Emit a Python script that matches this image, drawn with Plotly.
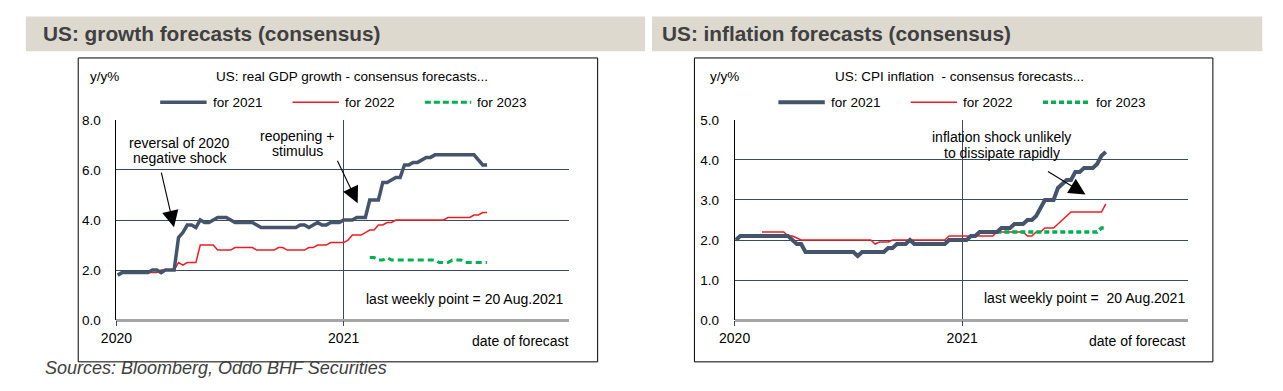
import pandas as pd
import plotly.graph_objects as go

W, H = 1283, 391

# ---------------- data (weekly, Fridays) ----------------
dates = list(pd.date_range("2020-01-03", "2021-08-20", freq="7D"))
N = len(dates)

gdp_2021 = ([1.8] + [1.9] * 7 + [2.0, 2.0, 1.9, 2.0, 2.0, 2.0]
            + [3.3, 3.5, 3.8, 3.8, 3.7, 4.0, 3.9, 3.9, 4.0, 4.1, 4.1, 4.1, 4.0]
            + [3.9] * 5 + [3.8] + [3.7] * 8
            + [3.7, 3.8, 3.8, 3.7, 3.8, 3.9, 3.8, 3.8, 3.9, 3.9, 3.9, 4.0, 4.0, 4.0, 4.1, 4.1, 4.1]
            + [4.8, 4.8, 4.8, 5.5, 5.5, 5.6, 5.7, 5.7, 6.2, 6.2, 6.3, 6.3, 6.4, 6.5, 6.5]
            + [6.6] * 10 + [6.4, 6.2, 6.2])
gdp_2022 = ([None] * 6 + [1.9] * 4 + [2.0] * 4 + [2.3, 2.2, 2.3, 2.3, 2.3]
            + [3.0] * 4 + [2.8] * 4 + [2.9] * 5 + [2.8] * 5 + [2.9, 2.9] + [2.8] * 5
            + [2.9, 2.9, 3.0, 3.0, 3.0, 3.1, 3.1, 3.1, 3.1, 3.2, 3.4, 3.4, 3.4, 3.5, 3.6, 3.6,
               3.8, 3.8, 3.9, 3.9]
            + [4.0] * 12 + [4.1] * 6 + [4.2, 4.2, 4.3, 4.3])
gdp_2023 = ([None] * 58 + [2.5, 2.5, 2.4, 2.4, 2.5, 2.4] + [2.4] * 10
            + [2.3, 2.3, 2.3, 2.4, 2.4, 2.4] + [2.3] * 6)

cpi_2021 = ([2.0] + [2.1] * 12 + [2.0, 1.9, 1.9] + [1.7] * 12 + [1.6] + [1.7] * 6
            + [1.8, 1.8, 1.9, 1.9, 1.9, 2.0] + [1.9] * 8 + [2.0] * 5
            + [2.1, 2.1, 2.2, 2.2, 2.2, 2.2, 2.2, 2.3, 2.3, 2.3, 2.4, 2.4, 2.4, 2.5, 2.5, 2.6,
               2.8, 3.0, 3.0, 3.0, 3.3, 3.4, 3.5, 3.5, 3.7, 3.7, 3.8, 3.8, 3.8, 3.9, 4.1, 4.2])
cpi_2022 = ([None] * 6 + [2.2] * 6 + [2.1, 2.1, 2.05] + [2.0] * 17 + [1.9, 1.95, 1.95, 1.95]
            + [2.0] * 13 + [2.1] * 11 + [2.2] * 7 + [2.1, 2.1, 2.2, 2.2, 2.3, 2.3, 2.3, 2.4, 2.5, 2.6]
            + [2.7] * 8 + [2.9])
cpi_2023 = [None] * 58 + [2.2] * 26 + [2.3, 2.3]

for s in (gdp_2021, gdp_2022, gdp_2023, cpi_2021, cpi_2022, cpi_2023):
    assert len(s) == N, len(s)

series_names = ["for 2021", "for 2022", "for 2023"]
x_ticks = ["2020-01-01", "2021-01-01"]
x_ticktext = ["2020", "2021"]

# ---------------- styling ----------------
FONT = "Arial, Liberation Sans, sans-serif"
BLUE, RED, GREEN = "#44546A", "#ED1C24", "#00B050"
GRID = "#3B4A61"


def px(x):
    return x / W


def py(y):
    return 1 - y / H


fig = go.Figure()

# left chart traces
fig.add_trace(go.Scatter(x=dates, y=gdp_2022, mode="lines", line=dict(color=RED, width=1.5),
                         xaxis="x", yaxis="y", showlegend=False))
fig.add_trace(go.Scatter(x=dates, y=gdp_2023, mode="lines",
                         line=dict(color=GREEN, width=3, dash="6px,4px"),
                         xaxis="x", yaxis="y", showlegend=False))
fig.add_trace(go.Scatter(x=dates, y=gdp_2021, mode="lines", line=dict(color=BLUE, width=3.5),
                         xaxis="x", yaxis="y", showlegend=False))
# right chart traces
fig.add_trace(go.Scatter(x=dates, y=cpi_2022, mode="lines", line=dict(color=RED, width=1.5),
                         xaxis="x2", yaxis="y2", showlegend=False))
fig.add_trace(go.Scatter(x=dates, y=cpi_2023, mode="lines",
                         line=dict(color=GREEN, width=3.5, dash="5px,3px"),
                         xaxis="x2", yaxis="y2", showlegend=False))
fig.add_trace(go.Scatter(x=dates, y=cpi_2021, mode="lines", line=dict(color=BLUE, width=4),
                         xaxis="x2", yaxis="y2", showlegend=False))

xaxis_common = dict(
    type="date", range=["2020-01-01", "2021-12-30"], tickvals=x_ticks, ticktext=x_ticktext,
    showgrid=True, gridcolor=GRID, gridwidth=1, showline=False, zeroline=False,
    ticks="outside", ticklen=5, tickcolor=GRID, tickwidth=1,
    tickfont=dict(family=FONT, size=14, color="black"), fixedrange=True,
)
yaxis_common = dict(
    showgrid=True, gridcolor=GRID, gridwidth=1, showline=True, linecolor="black", linewidth=1,
    zeroline=True, zerolinecolor="#A6A6A6", zerolinewidth=3, ticks="", tickformat=".1f",
    tickfont=dict(family=FONT, size=13.5, color="black"), ticklabelstandoff=12, fixedrange=True,
)
ydom = [py(325.7), py(117.3)]
fig.update_layout(
    xaxis=dict(domain=[px(101.7), px(560)], anchor="y", **xaxis_common),
    yaxis=dict(domain=ydom, anchor="x", range=[0, 8], dtick=2, **yaxis_common),
    xaxis2=dict(domain=[px(727.7), px(1186.7)], anchor="y2", **xaxis_common),
    yaxis2=dict(domain=ydom, anchor="x2", range=[0, 5], dtick=1, **yaxis_common),
)

shapes = []
annotations = []

# header bands
for x0, x1, txt, tx in [(10, 637, "US: growth forecasts (consensus)", 25),
                        (644, 1262, "US: inflation forecasts (consensus)", 652)]:
    shapes.append(dict(type="rect", xref="paper", yref="paper", x0=px(x0), x1=px(x1),
                       y0=py(46), y1=py(10), fillcolor="#DDD9CE", line=dict(width=0), layer="below"))
    annotations.append(dict(text="<b>" + txt + "</b>", xref="paper", yref="paper", x=px(tx), y=py(28),
                            xanchor="left", yanchor="middle", showarrow=False,
                            font=dict(family=FONT, size=20.8, color="#404040")))

# chart boxes
for x0, x1 in [(63, 589), (687, 1212)]:
    shapes.append(dict(type="rect", xref="paper", yref="paper", x0=px(x0), x1=px(x1),
                       y0=py(369), y1=py(53), line=dict(color="black", width=1), layer="below"))


def text(t, x, y, xanchor="left", size=14, color="black", italic=False, align="left"):
    f = dict(family=FONT, size=size, color=color)
    if italic:
        f["style"] = "italic"
    annotations.append(dict(text=t, xref="paper", yref="paper", x=px(x), y=py(y), xanchor=xanchor,
                            yanchor="middle", showarrow=False, font=f, align=align))


# chart titles / units
text("y/y%", 73, 72, size=13.5)
text("US: real GDP growth - consensus forecasts...", 200, 72, size=13.5)
text("y/y%", 701, 72, size=13.5)
text("US: CPI inflation \u00a0- consensus forecasts...", 827, 72, size=13.5)

# legends (manual)
legend_specs = [
    ([146, 280, 414], [197, 331, 465], [3.5, 1.5, 3], "6px,3px"),
    ([772, 906, 1040], [823, 957, 1092], [4, 1.5, 3.5], "5px,3px"),
]
for lx, tx, widths, gdash in legend_specs:
    for i, (color, name) in enumerate(zip([BLUE, RED, GREEN], series_names)):
        shapes.append(dict(type="line", xref="paper", yref="paper", x0=px(lx[i]), x1=px(lx[i] + 47),
                           y0=py(99), y1=py(99),
                           line=dict(color=color, width=widths[i], dash=gdash if i == 2 else "solid")))
        text(name, tx[i], 99, size=13.5)

# annotations with arrows (each text line placed separately)
text("reversal of 2020", 166, 141, xanchor="center")
text("negative shock", 166, 157, xanchor="center")
text("reopening +", 285, 134, xanchor="center")
text("stimulus", 285, 150, xanchor="center")
text("inflation shock unlikely", 998, 135, xanchor="center")
text("to dissipate rapidly", 998, 152, xanchor="center")
for (hx, hy), (tx_, ty_) in [((160, 229), (147, 173)), ((346, 204), (325, 160)),
                             ((1083, 195), (1044, 171))]:
    annotations.append(dict(text="", xref="paper", yref="paper", x=px(hx), y=py(hy),
                            ax=tx_ - hx, ay=ty_ - hy, axref="pixel", ayref="pixel",
                            showarrow=True, arrowhead=2, arrowsize=3, arrowwidth=1.1,
                            arrowcolor="black"))

text("last weekly point = 20 Aug.2021", 557, 304, xanchor="right")
text("last weekly point = \u00a020 Aug.2021", 1186, 303, xanchor="right")
text("date of forecast", 562, 347, xanchor="right")
text("date of forecast", 1187, 347, xanchor="right")

text("Sources: Bloomberg, Oddo BHF Securities", 27, 375, size=18, color="#404040", italic=True)

fig.update_layout(
    width=W, height=H, margin=dict(l=0, r=0, t=0, b=0),
    paper_bgcolor="white", plot_bgcolor="white", hovermode=False,
    shapes=shapes, annotations=annotations, showlegend=False,
)

fig.write_html(
    "out.html",
    config={"displayModeBar": False, "staticPlot": True},
    post_script="document.documentElement.style.margin='0';document.body.style.margin='0';"
                "document.body.style.overflow='hidden';",
)
